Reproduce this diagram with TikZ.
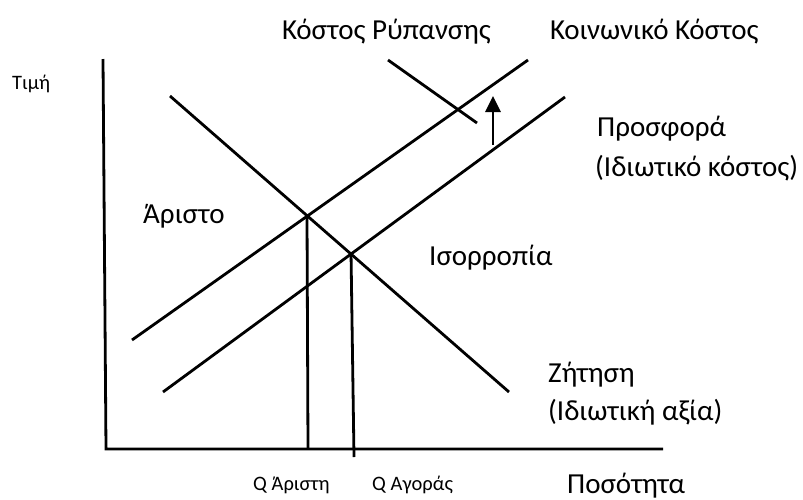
\documentclass[tikz,border=0pt]{standalone}
\usepackage{fontspec}
\setmainfont{Carlito}
\usetikzlibrary{arrows.meta}
\begin{document}
\begin{tikzpicture}[x=1pt,y=-1pt,
  curve/.style={line width=2.8pt},
  big/.style={anchor=base west,inner sep=0pt,font=\fontsize{29}{32}\selectfont},
  small/.style={anchor=base west,inner sep=0pt,font=\fontsize{20.5}{23}\selectfont}]
\useasboundingbox (0,0) rectangle (803,499);
% axes
\coordinate (ytop) at (103,59);
\coordinate (orig) at (106,449);
\coordinate (xend) at (663,449);
\draw[curve] (ytop) -- (orig) -- (xend);
% demand
\coordinate (d1) at (170,96);
\coordinate (d2) at (509,392);
\draw[curve] (d1) -- (d2);
% social cost
\coordinate (s1) at (132,340);
\coordinate (s2) at (528,60);
\draw[curve] (s1) -- (s2);
% private supply
\coordinate (p1) at (163,392);
\coordinate (p2) at (565,97);
\draw[curve] (p1) -- (p2);
% pollution cost
\coordinate (r1) at (388,60);
\coordinate (r2) at (477,123);
\draw[curve] (r1) -- (r2);
% shift arrow
\coordinate (a1) at (493,145);
\coordinate (a2) at (493,96);
\draw[curve,-{Triangle[length=16pt,width=15pt]}] (a1) -- (a2);
% verticals
\coordinate (opt) at (307,216);
\coordinate (optb) at (308,449);
\coordinate (mkt) at (351,252);
\coordinate (mktb) at (354,457);
\draw[curve] (opt) -- (optb);
\draw[curve] (mkt) -- (mktb);
% labels
\node[small] (lp) at (12,89) {Τιμή};
\node[big] (lr) at (282,39) {Κόστος Ρύπανσης};
\node[big] (ls) at (550,39) {Κοινωνικό Κόστος};
\node[big] (lsup) at (597,136) {Προσφορά};
\node[big] (lsup2) at (595,176) {(Ιδιωτικό κόστος)};
\node[big] (lopt) at (143,223) {Άριστο};
\node[big] (leq) at (429,265) {Ισορροπία};
\node[big] (ld) at (548,382) {Ζήτηση};
\node[big] (ld2) at (548,420) {(Ιδιωτική αξία)};
\node[big] (lq) at (567,493) {Ποσότητα};
\node[small] (lqo) at (253,490) {Q Άριστη};
\node[small] (lqm) at (372,490) {Q Αγοράς};
\end{tikzpicture}
\end{document}
